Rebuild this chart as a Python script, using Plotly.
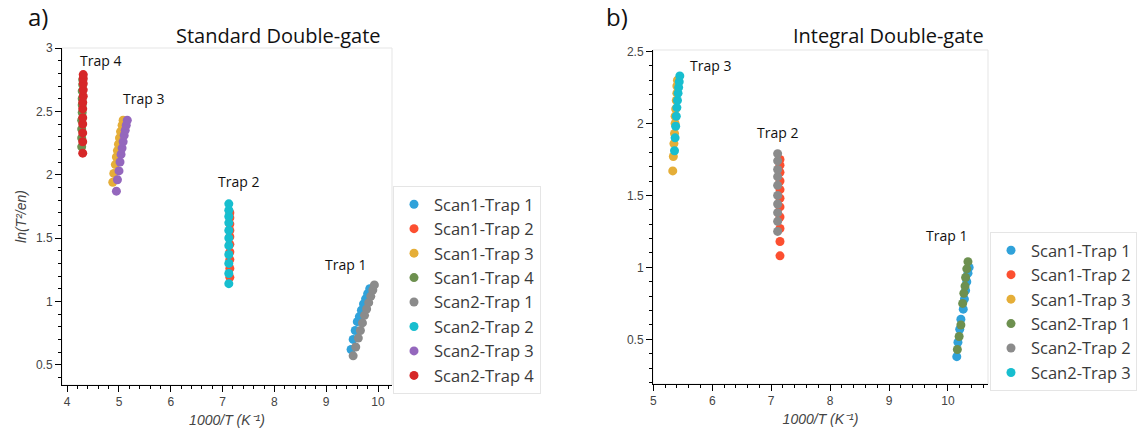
import plotly.graph_objects as go

# ---- Standard Double-gate (panel a) ----
std_names = ["Scan1-Trap 1", "Scan1-Trap 2", "Scan1-Trap 3", "Scan1-Trap 4",
             "Scan2-Trap 1", "Scan2-Trap 2", "Scan2-Trap 3", "Scan2-Trap 4"]

std_s1_t1_x = [9.48, 9.52, 9.56, 9.60, 9.64, 9.68, 9.72, 9.76, 9.80, 9.84]
std_s1_t1_y = [0.62, 0.70, 0.77, 0.84, 0.88, 0.93, 0.98, 1.02, 1.06, 1.10]
std_s1_t2_x = [7.14, 7.14, 7.14, 7.14, 7.14, 7.14, 7.14, 7.14, 7.14, 7.14]
std_s1_t2_y = [1.19, 1.26, 1.33, 1.39, 1.45, 1.51, 1.56, 1.61, 1.66, 1.70]
std_s1_t3_x = [4.88, 4.90, 4.93, 4.95, 4.97, 4.99, 5.01, 5.03, 5.06, 5.08]
std_s1_t3_y = [1.94, 2.01, 2.08, 2.14, 2.19, 2.24, 2.29, 2.34, 2.39, 2.43]
std_s1_t4_x = [4.28, 4.28, 4.28, 4.28, 4.29, 4.29, 4.29, 4.29, 4.30, 4.30]
std_s1_t4_y = [2.22, 2.29, 2.36, 2.43, 2.49, 2.55, 2.60, 2.66, 2.71, 2.75]
std_s2_t1_x = [9.52, 9.57, 9.62, 9.66, 9.70, 9.74, 9.78, 9.82, 9.86, 9.90, 9.93]
std_s2_t1_y = [0.57, 0.64, 0.71, 0.77, 0.83, 0.89, 0.94, 0.99, 1.04, 1.09, 1.13]
std_s2_t2_x = [7.12, 7.12, 7.12, 7.12, 7.12, 7.12, 7.12, 7.12, 7.12, 7.12, 7.12]
std_s2_t2_y = [1.14, 1.22, 1.30, 1.37, 1.44, 1.50, 1.56, 1.62, 1.67, 1.72, 1.77]
std_s2_t3_x = [4.95, 4.97, 5.00, 5.02, 5.04, 5.06, 5.08, 5.10, 5.12, 5.14, 5.16]
std_s2_t3_y = [1.87, 1.96, 2.03, 2.10, 2.16, 2.21, 2.26, 2.31, 2.35, 2.39, 2.43]
std_s2_t4_x = [4.30, 4.30, 4.30, 4.30, 4.30, 4.30, 4.30, 4.31, 4.31, 4.31, 4.31, 4.31]
std_s2_t4_y = [2.17, 2.26, 2.33, 2.40, 2.45, 2.52, 2.57, 2.62, 2.67, 2.72, 2.76, 2.79]

# ---- Integral Double-gate (panel b) ----
int_names = ["Scan1-Trap 1", "Scan1-Trap 2", "Scan1-Trap 3",
             "Scan2-Trap 1", "Scan2-Trap 2", "Scan2-Trap 3"]

int_s1_t1_x = [10.15, 10.17, 10.20, 10.22, 10.26, 10.28, 10.30, 10.32, 10.34, 10.36]
int_s1_t1_y = [0.38, 0.48, 0.57, 0.64, 0.71, 0.78, 0.84, 0.90, 0.96, 1.00]
int_s1_t2_x = [7.15, 7.15, 7.15, 7.15, 7.15, 7.15, 7.15, 7.15, 7.15, 7.15, 7.15]
int_s1_t2_y = [1.08, 1.18, 1.27, 1.35, 1.42, 1.48, 1.54, 1.60, 1.66, 1.71, 1.75]
int_s1_t3_x = [5.33, 5.34, 5.35, 5.36, 5.37, 5.37, 5.38, 5.39, 5.40, 5.40, 5.41]
int_s1_t3_y = [1.67, 1.77, 1.86, 1.93, 2.00, 2.05, 2.10, 2.16, 2.21, 2.26, 2.30]
int_s2_t1_x = [10.16, 10.19, 10.22, 10.25, 10.27, 10.29, 10.30, 10.32, 10.34]
int_s2_t1_y = [0.43, 0.52, 0.60, 0.75, 0.82, 0.87, 0.93, 0.99, 1.04]
int_s2_t2_x = [7.11, 7.11, 7.11, 7.11, 7.11, 7.11, 7.11, 7.11, 7.11, 7.11]
int_s2_t2_y = [1.25, 1.32, 1.38, 1.44, 1.50, 1.57, 1.63, 1.68, 1.74, 1.79]
int_s2_t3_x = [5.36, 5.37, 5.38, 5.39, 5.40, 5.41, 5.42, 5.43, 5.44, 5.45]
int_s2_t3_y = [1.81, 1.90, 1.98, 2.05, 2.11, 2.16, 2.21, 2.25, 2.29, 2.33]

# HoloViews-style colour cycle
std_colors = ["#30a2da", "#fc4f30", "#e5ae38", "#6d904f",
              "#8b8b8b", "#17becf", "#9467bd", "#d62728"]
int_colors = ["#30a2da", "#fc4f30", "#e5ae38", "#6d904f", "#8b8b8b", "#17becf"]

std_series = [(std_s1_t1_x, std_s1_t1_y), (std_s1_t2_x, std_s1_t2_y),
              (std_s1_t3_x, std_s1_t3_y), (std_s1_t4_x, std_s1_t4_y),
              (std_s2_t1_x, std_s2_t1_y), (std_s2_t2_x, std_s2_t2_y),
              (std_s2_t3_x, std_s2_t3_y), (std_s2_t4_x, std_s2_t4_y)]
int_series = [(int_s1_t1_x, int_s1_t1_y), (int_s1_t2_x, int_s1_t2_y),
              (int_s1_t3_x, int_s1_t3_y), (int_s2_t1_x, int_s2_t1_y),
              (int_s2_t2_x, int_s2_t2_y), (int_s2_t3_x, int_s2_t3_y)]

# Trap annotations: (text, x, y)
std_labels = [("Trap 4", 4.65, 2.90), ("Trap 3", 5.47, 2.60),
              ("Trap 2", 7.30, 1.95), ("Trap 1", 9.37, 1.29)]
int_labels = [("Trap 3", 5.97, 2.40), ("Trap 2", 7.10, 1.94),
              ("Trap 1", 9.97, 1.22)]

W, H = 1137, 436
LABEL_FONT = "Open Sans, Noto Sans, sans-serif"
TICK_FONT = "Liberation Sans, Arial, sans-serif"

fig = go.Figure()

for (x, y), name, col in zip(std_series, std_names, std_colors):
    fig.add_trace(go.Scatter(x=x, y=y, mode="markers", name=name,
                             marker=dict(size=9, color=col),
                             xaxis="x", yaxis="y", legend="legend"))

for (x, y), name, col in zip(int_series, int_names, int_colors):
    fig.add_trace(go.Scatter(x=x, y=y, mode="markers", name=name,
                             marker=dict(size=9, color=col),
                             xaxis="x2", yaxis="y2", legend="legend2"))


def axis_style(rng, domain, dtick, minor_dtick, anchor, title=None, standoff=6):
    d = dict(range=rng, domain=domain, anchor=anchor, automargin=False,
             showgrid=False, zeroline=False,
             showline=True, linecolor="#000", linewidth=1,
             ticks="outside", ticklen=6, tickwidth=1, tickcolor="#000",
             tick0=0, dtick=dtick,
             minor=dict(ticks="outside", ticklen=3, tickcolor="#000",
                        dtick=minor_dtick, tick0=0, showgrid=False),
             tickfont=dict(family=TICK_FONT, size=12, color="#444"))
    if title:
        d["title"] = dict(text=title, standoff=standoff,
                          font=dict(family=TICK_FONT, size=14, color="#444"))
    return d


xt = "<i>1000/T (K⁻¹)</i>"
yt = "<i>ln(T²/en)</i>"

ax1_x = [62 / W, 392 / W]
ax1_y = [1 - 385 / H, 1 - 48 / H]
ax2_x = [653 / W, 988 / W]
ax2_y = [1 - 384 / H, 1 - 50 / H]

fig.update_layout(
    width=W, height=H,
    margin=dict(l=0, r=0, t=0, b=0),
    paper_bgcolor="white", plot_bgcolor="white",
    xaxis=axis_style([3.9, 10.27], ax1_x, 1, 0.2, "y", xt),
    yaxis=axis_style([0.34, 3.0], ax1_y, 0.5, 0.1, "x", yt),
    xaxis2=axis_style([4.995, 10.68], ax2_x, 1, 0.2, "y2", xt),
    yaxis2=axis_style([0.19, 2.51], ax2_y, 0.5, 0.1, "x2"),
    legend=dict(x=393 / W, y=1 - 186 / H, xanchor="left", yanchor="top",
                bgcolor="white", bordercolor="#e5e5e5", borderwidth=1,
                font=dict(family=LABEL_FONT, size=16.5, color="#3a3a3a"),
                itemsizing="trace"),
    legend2=dict(x=990 / W, y=1 - 232 / H, xanchor="left", yanchor="top",
                 bgcolor="white", bordercolor="#e5e5e5", borderwidth=1,
                 font=dict(family=LABEL_FONT, size=16.5, color="#3a3a3a"),
                 itemsizing="trace"),
)

# light plot frame
for xr, yr in (("x domain", "y domain"), ("x2 domain", "y2 domain")):
    fig.add_shape(type="rect", xref=xr, yref=yr, x0=0, x1=1, y0=0, y1=1,
                  line=dict(color="#e5e5e5", width=1), layer="below")

for text, x, y in std_labels:
    fig.add_annotation(x=x, y=y, xref="x", yref="y", text=text, showarrow=False,
                       font=dict(family=LABEL_FONT, size=14, color="#111"))
for text, x, y in int_labels:
    fig.add_annotation(x=x, y=y, xref="x2", yref="y2", text=text, showarrow=False,
                       font=dict(family=LABEL_FONT, size=14, color="#111"))

# panel titles and letters
for text, px, py, size in (("Standard Double-gate", 278, 35, 20),
                           ("Integral Double-gate", 888, 35, 20),
                           ("a)", 38, 16, 24),
                           ("b)", 617, 16, 24)):
    fig.add_annotation(x=px / W, y=1 - py / H, xref="paper", yref="paper",
                       xanchor="center", yanchor="middle", text=text,
                       showarrow=False,
                       font=dict(family=LABEL_FONT, size=size, color="#111"))

fig.write_html("out.html")
